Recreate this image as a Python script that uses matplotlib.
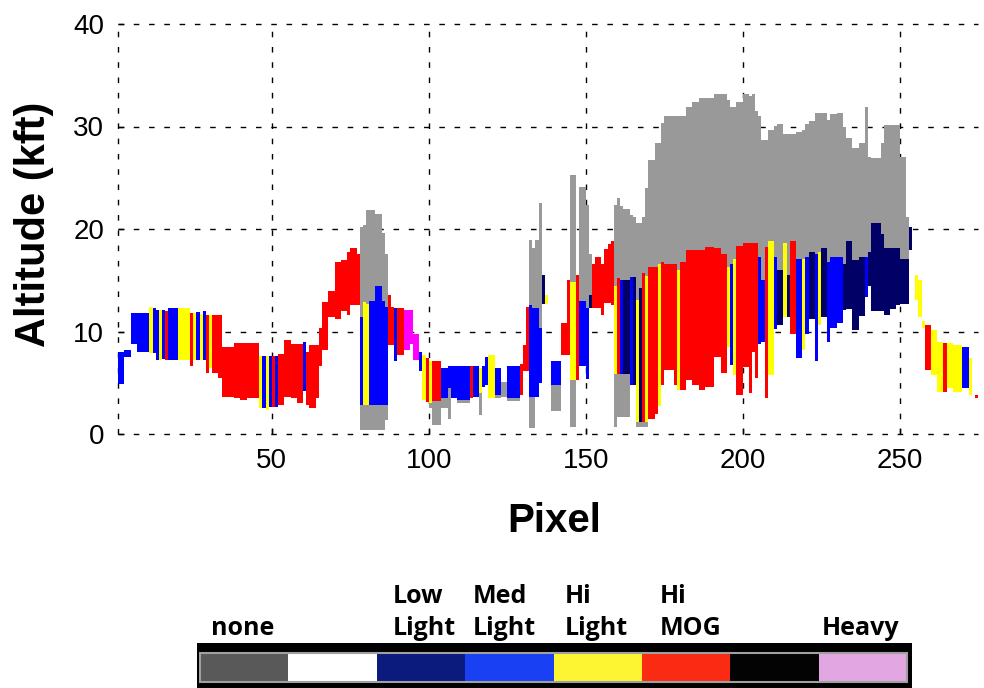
import numpy as np
import matplotlib
matplotlib.use("Agg")
import matplotlib.pyplot as plt
from matplotlib.patches import Rectangle

plt.rcParams['lines.scale_dashes'] = False
nan = np.nan

# turbulence runs along the track: each run goes from its start pixel to the next start
# cat: L=low light, M=med light, H=hi light, G=hi MOG, V=heavy, n=cloud only, x=empty
run_start = [1, 3, 5, 7, 11, 12, 13, 14, 15, 16, 17, 20, 24, 25, 26, 27, 28, 29, 30, 31,
             33, 34, 38, 40, 42, 46, 47, 48, 49, 50, 51, 52, 54, 56, 58, 60, 61, 62, 64, 65,
             66, 68, 70, 72, 74, 75, 77, 78, 79, 80, 81, 83, 85, 86, 87, 88, 89, 90, 92, 94,
             95, 97, 98, 99, 100, 101, 104, 106, 107, 109, 113, 114, 116, 117, 118, 119, 121, 123, 125, 129,
             130, 131, 132, 133, 134, 135, 136, 137, 138, 139, 142, 144, 145, 147, 148, 150, 151, 152, 153, 155,
             156, 157, 158, 159, 160, 161, 162, 164, 165, 166, 167, 168, 169, 170, 172, 173, 174, 175, 178, 179,
             180, 182, 184, 186, 188, 191, 193, 195, 196, 197, 198, 200, 202, 203, 204, 205, 206, 207, 208, 210,
             211, 213, 214, 215, 217, 219, 220, 221, 223, 224, 225, 227, 228, 230, 232, 233, 235, 237, 239, 240,
             241, 244, 245, 247, 249, 250, 252, 253, 254, 255, 256, 257, 258, 260, 262, 264, 265, 267, 270, 272,
             273, 274]
run_end = 275

run_cat = list("MMMMHMMHMGMHGHMHMGHG"
               "GGGGGHMHMGMGGGGMGGGG"
               "GGGGGGGMHHMMMMGGMGVV"
               "VMHGHGMMMMGMHMMHMnMG"
               "GGMMMMLHxMGGHGMMLGGG"
               "GGGHGMLMLHLGHGGHGGGH"
               "GGGGGGGHMHGGGGGMMGHM"
               "LHLGMHMLMHLMMMLLLLML"
               "LLLLLLLLxHHHGHHGHHMH"
               "xG")

turb_lo = [4.9, 7.5, 8.8, 8.0, 7.9, 7.9, 7.2, 7.2, 7.3, 7.2, 7.2, 7.2, 6.6, 7.2, 7.2, 7.2, 7.2, 6.0, 6.4, 6.0,
           5.5, 3.6, 3.5, 3.3, 3.5, 2.5, 2.5, 2.3, 2.6, 2.6, 2.6, 2.8, 3.6, 3.5, 3.0, 4.2, 2.8, 2.5, 3.5, 6.6,
           8.2, 11.4, 11.2, 12.0, 11.6, 12.6, 12.6, 2.8, 2.8, 2.8, 2.8, 2.8, 2.8, 2.8, 8.7, 8.7, 7.1, 7.7, 8.2, 8.8,
           7.2, 6.1, 3.3, 3.1, 3.0, 3.2, 3.5, 4.5, 3.5, 3.3, 3.5, 3.6, 4.0, 4.6, 4.8, 3.5, 3.8, nan, 3.5, 3.8,
           6.1, 6.1, 3.6, 3.6, 3.6, 5.0, 12.7, 12.7, nan, 4.8, 7.7, 7.7, 5.3, 5.3, 6.6, 5.4, 12.3, 12.3, 12.3, 11.6,
           12.8, 12.8, 12.6, 5.9, 5.9, 5.9, 5.9, 4.8, 4.8, 1.2, 1.2, 1.2, 1.2, 1.5, 2.0, 2.7, 4.8, 6.2, 4.8, 4.3,
           4.3, 5.3, 4.8, 4.3, 4.6, 7.5, 6.0, 8.5, 6.7, 5.8, 3.8, 6.5, 4.0, 8.0, 5.5, 8.8, 9.0, 3.5, 5.8, 10.2,
           10.6, 11.4, 11.4, 9.8, 7.4, 8.2, 9.8, 11.2, 7.1, 10.6, 11.4, 9.0, 10.3, 10.8, 12.1, 12.2, 10.1, 11.5, 13.4, 14.4,
           12.0, 12.0, 11.6, 12.2, 12.6, 12.7, 12.7, 18.0, nan, 13.1, 11.4, 10.3, 6.2, 5.8, 4.1, 4.1, 4.5, 4.1, 4.5, 3.8,
           nan, 3.5]

turb_hi = [8.0, 8.2, 11.8, 11.8, 12.4, 12.3, 12.1, 12.1, 12.1, 12.0, 12.3, 12.3, 11.8, 11.8, 11.9, 11.7, 12.0, 11.6, 11.6, 11.6,
           11.6, 8.5, 8.9, 8.9, 8.9, 7.6, 7.6, 7.6, 7.6, 7.6, 7.6, 7.8, 9.2, 8.8, 8.8, 9.0, 8.0, 8.7, 8.7, 10.3,
           12.9, 14.0, 16.8, 17.0, 17.8, 18.1, 17.6, 11.4, 12.9, 12.7, 13.0, 14.4, 13.0, 12.4, 13.6, 12.4, 12.3, 12.3, 12.1, 12.1,
           9.8, 8.0, 7.7, 7.4, 7.1, 7.1, 6.4, 6.6, 6.6, 6.6, 6.6, 6.6, 6.4, 6.6, 7.5, 7.7, 6.4, nan, 6.6, 6.8,
           8.7, 12.4, 12.6, 12.3, 12.3, 10.3, 15.5, 13.6, nan, 7.1, 10.8, 15.0, 14.8, 15.5, 13.0, 12.3, 13.6, 16.6, 17.3, 16.6,
           18.0, 18.5, 18.8, 14.4, 15.2, 15.0, 15.0, 15.3, 15.3, 13.1, 14.2, 15.7, 15.4, 16.3, 16.3, 16.6, 16.8, 16.6, 16.6, 16.0,
           16.8, 18.0, 18.0, 18.0, 18.2, 18.1, 17.6, 16.3, 16.6, 17.1, 18.3, 18.6, 18.6, 18.6, 18.6, 17.3, 15.0, 18.2, 18.8, 17.3,
           16.0, 18.6, 15.5, 18.8, 17.1, 17.1, 17.3, 17.8, 17.6, 17.8, 18.1, 16.8, 17.3, 17.3, 16.6, 18.8, 17.0, 17.3, 17.3, 17.8,
           20.6, 19.5, 18.1, 18.1, 18.1, 17.1, 17.1, 20.2, nan, 15.5, 15.0, 11.0, 10.6, 10.1, 9.0, 8.9, 8.9, 8.7, 8.5, 7.4,
           nan, 3.8]

# echo without turbulence (grey) above / below the coloured part, nan = none
cloud_top = [nan] * 20 + [nan] * 20 + \
    [nan, nan, nan, nan, nan, nan, nan, 20.2, 20.4, 21.9, 21.9, 21.5, 19.6, 17.6, nan, nan, nan, nan, nan, nan,
     nan, nan, nan, nan, nan, nan, nan, nan, nan, nan, nan, nan, nan, nan, nan, nan, nan, 5.1, nan, nan,
     nan, nan, 18.9, 18.1, 18.9, 22.5, nan, nan, nan, nan, nan, nan, 25.3, nan, 24.1, 22.3, 17.6, nan, nan, nan,
     nan, nan, nan, 22.3, 23.0, 22.2, 22.0, 21.4, 21.2, 20.6, 20.6, 21.2, 24.0, 26.7, 28.4, 28.4, 30.3, 31.0, 31.0, 31.0,
     31.0, 31.9, 32.4, 32.8, 32.8, 33.2, 33.2, 32.6, 31.9, 31.9, 32.4, 33.2, 33.0, 33.2, 31.5, 31.0, 28.7, 28.7, 29.7, 30.0,
     30.2, 29.3, 29.3, 29.3, 29.5, 29.7, 30.2, 30.5, 31.3, 31.3, 31.3, 30.6, 31.2, 31.3, 30.0, 28.9, 27.9, 28.4, 31.9, 27.0,
     26.9, 28.4, 30.1, 30.1, 30.1, 27.0, 21.2, nan, nan, nan, nan, nan, nan, nan, nan, nan, nan, nan, nan, nan,
     nan, nan]
cloud_base = [nan] * 20 + [nan] * 20 + \
    [nan, nan, nan, nan, nan, nan, nan, 0.4, 0.4, 0.4, 0.4, 0.4, 0.4, 1.4, nan, nan, nan, nan, nan, nan,
     nan, nan, nan, nan, 2.5, 0.9, 2.5, 1.5, nan, 3.0, nan, nan, 1.9, nan, nan, nan, 3.5, 3.6, 3.2, nan,
     nan, nan, 0.6, 0.6, 3.6, nan, nan, nan, nan, 2.2, nan, nan, 0.7, nan, nan, nan, nan, nan, nan, nan,
     nan, nan, nan, 0.7, 1.7, 1.7, 1.7, nan, nan, 0.7, 0.7, 0.7, 0.7, nan, nan, nan, nan, nan, nan, nan] + \
    [nan] * 20 + [nan] * 20 + [nan] * 20 + [nan, nan]

cat_colors = {'L': '#000066', 'M': '#0000ff', 'H': '#ffff00', 'G': '#ff0000', 'V': '#ff00ff'}
echo_color = '#999999'

legend_colors = ['#595959', '#ffffff', '#0b1a7d', '#1940f2', '#fdf531', '#fb2a12', '#030303', '#e2a7e2']
legend_labels = ['none', '', 'Low\nLight', 'Med\nLight', 'Hi\nLight', 'Hi\nMOG', '', 'Heavy']

x0 = np.array(run_start, dtype=float)
w = np.diff(np.append(x0, run_end))
lo = np.array(turb_lo)
hi = np.array(turb_hi)
ctop = np.array(cloud_top)
cbase = np.array(cloud_base)

W, H = 984, 688
fig = plt.figure(figsize=(W / 100, H / 100), dpi=100)
ax = fig.add_axes([118 / W, 1 - 434 / H, (978 - 118) / W, (434 - 24) / H])
ax.set_xlim(1, 275)
ax.set_ylim(0, 40)

# echo above coloured part (or the whole column when there is no turbulence)
top_base = np.where(np.isnan(hi), cbase, hi)
m = ~np.isnan(ctop)
ax.bar(x0[m], ctop[m] - top_base[m], width=w[m], bottom=top_base[m], align='edge',
       color=echo_color, linewidth=0, zorder=2)
# echo below coloured part
m = ~np.isnan(cbase) & ~np.isnan(lo)
ax.bar(x0[m], lo[m] - cbase[m], width=w[m], bottom=cbase[m], align='edge',
       color=echo_color, linewidth=0, zorder=2)
# turbulence
for c, col in cat_colors.items():
    m = np.array([k == c for k in run_cat])
    ax.bar(x0[m], hi[m] - lo[m], width=w[m], bottom=lo[m], align='edge',
           color=col, linewidth=0, zorder=3)

dash = (0, (4, 7))
for yv in [0, 10, 20, 30, 40]:
    ax.axhline(yv, color='black', lw=1, ls=dash, zorder=1, clip_on=False)
for xv in [1, 50, 100, 150, 200, 250]:
    ax.axvline(xv, color='black', lw=1, ls=dash, zorder=1, clip_on=False)

for s in ax.spines.values():
    s.set_visible(False)
ax.set_xticks([50, 100, 150, 200, 250])
ax.set_yticks([0, 10, 20, 30, 40])
ax.tick_params(direction='in', length=4, width=1, labelsize=20, pad=10)
for lab in ax.get_xticklabels() + ax.get_yticklabels():
    lab.set_family('Liberation Sans')

fig.text(34 / W, 1 - 224 / H, 'Altitude (kft)', rotation=90, ha='center', va='center',
         fontsize=30, fontweight='bold', family='Liberation Sans')
fig.text(554 / W, 1 - 521 / H, 'Pixel', ha='center', va='center',
         fontsize=29, fontweight='bold', family='Liberation Sans')

# colour key: black frame, boxes inside with a thin light outline
kax = fig.add_axes([197 / W, 0, (912 - 197) / W, 45 / H])
bw = (907 - 200) / len(legend_colors)
kax.set_xlim(-3 / bw, len(legend_colors) + 5 / bw)
kax.set_ylim(-6 / 29, 1 + 10 / 29)
kax.set_facecolor('black')
for i, col in enumerate(legend_colors):
    kax.add_patch(Rectangle((i, 0), 1, 1, facecolor=col, edgecolor='none'))
kax.add_patch(Rectangle((0, 0), len(legend_colors), 1, facecolor='none',
                        edgecolor='#a0a0a0', lw=1.5))
kax.set_xticks([])
kax.set_yticks([])
for s in kax.spines.values():
    s.set_visible(False)

label_x = [211, None, 393, 473, 565, 660, None, 822]
for lx, lab in zip(label_x, legend_labels):
    if lx is None:
        continue
    fig.text(lx / W, 1 - 635 / H, lab, ha='left', va='baseline', fontsize=18,
             fontweight='bold', family='Open Sans', linespacing=1.35)

fig.savefig('out.png', dpi=100)
